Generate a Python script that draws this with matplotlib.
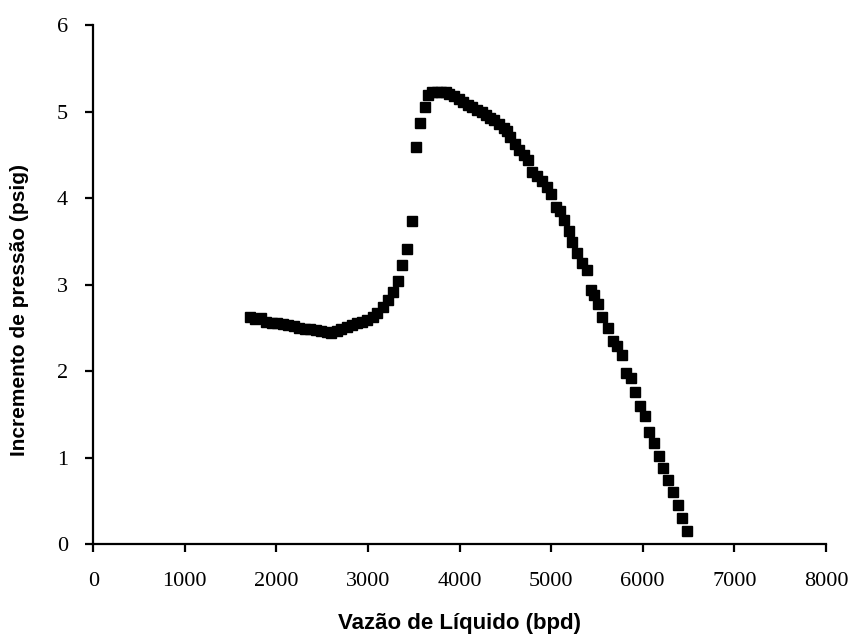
import numpy as np
import matplotlib
matplotlib.use("Agg")
import matplotlib.pyplot as plt

# Vazão de líquido (bpd) e incremento de pressão (psig)
vazao = [
    1714, 1770, 1830, 1890, 1950, 2010, 2070, 2130, 2190, 2250,
    2310, 2370, 2430, 2490, 2550, 2600, 2660, 2710, 2770, 2830,
    2880, 2940, 2990, 3050, 3100, 3166, 3220, 3275, 3330, 3373,
    3428, 3482, 3526, 3570, 3620, 3660, 3700, 3750, 3800, 3850,
    3890, 3940, 3990, 4040, 4090, 4140, 4190, 4240, 4290, 4330,
    4380, 4430, 4480, 4520, 4550, 4600, 4650, 4700, 4750, 4790,
    4850, 4900, 4950, 5000, 5050, 5100, 5140, 5190, 5230, 5280,
    5340, 5390, 5430, 5470, 5510, 5560, 5620, 5670, 5720, 5770,
    5820, 5870, 5920, 5970, 6020, 6070, 6120, 6180, 6220, 6280,
    6330, 6380, 6430, 6480,
]
incremento = [
    2.62, 2.60, 2.61, 2.57, 2.56, 2.55, 2.54, 2.53, 2.52, 2.50,
    2.49, 2.48, 2.47, 2.46, 2.45, 2.44, 2.46, 2.49, 2.51, 2.53,
    2.55, 2.57, 2.59, 2.63, 2.67, 2.74, 2.82, 2.91, 3.04, 3.23,
    3.41, 3.73, 4.59, 4.87, 5.05, 5.19, 5.22, 5.23, 5.22, 5.22,
    5.20, 5.18, 5.15, 5.11, 5.08, 5.05, 5.02, 4.99, 4.96, 4.93,
    4.90, 4.86, 4.81, 4.77, 4.70, 4.62, 4.56, 4.50, 4.44, 4.30,
    4.25, 4.20, 4.13, 4.05, 3.90, 3.85, 3.75, 3.62, 3.49, 3.36,
    3.25, 3.17, 2.94, 2.88, 2.77, 2.62, 2.50, 2.35, 2.29, 2.18,
    1.98, 1.92, 1.76, 1.60, 1.48, 1.29, 1.17, 1.02, 0.88, 0.74,
    0.60, 0.45, 0.30, 0.15,
]
xticks = [0, 1000, 2000, 3000, 4000, 5000, 6000, 7000, 8000]
yticks = [0, 1, 2, 3, 4, 5, 6]

fig = plt.figure(figsize=(8.55, 6.35), dpi=100)
ax = fig.add_axes([0.109, 0.1433, 0.857, 0.8173])

ax.plot(vazao, incremento, linestyle="none", marker="s", markersize=6.5,
        color="black")

ax.set_xlim(0, 8000)
ax.set_ylim(0, 6)
ax.set_xticks(xticks)
ax.set_yticks(yticks)

for side in ("top", "right"):
    ax.spines[side].set_visible(False)
for side in ("left", "bottom"):
    ax.spines[side].set_linewidth(1.6)

ax.tick_params(direction="out", length=6, width=1.6)
ax.tick_params(axis="x", pad=14)
ax.tick_params(axis="y", pad=12)
for lbl in ax.get_xticklabels() + ax.get_yticklabels():
    lbl.set_fontfamily("Liberation Serif")
    lbl.set_fontsize(16)

ax.set_xlabel("Vazão de Líquido (bpd)", fontfamily="Liberation Sans",
              fontweight="bold", fontsize=16, labelpad=16)
ax.set_ylabel("Incremento de pressão (psig)", fontfamily="Liberation Sans",
              fontweight="bold", fontsize=15)
ax.yaxis.set_label_coords(-0.087, 0.45)

fig.savefig("out.png", dpi=100)
